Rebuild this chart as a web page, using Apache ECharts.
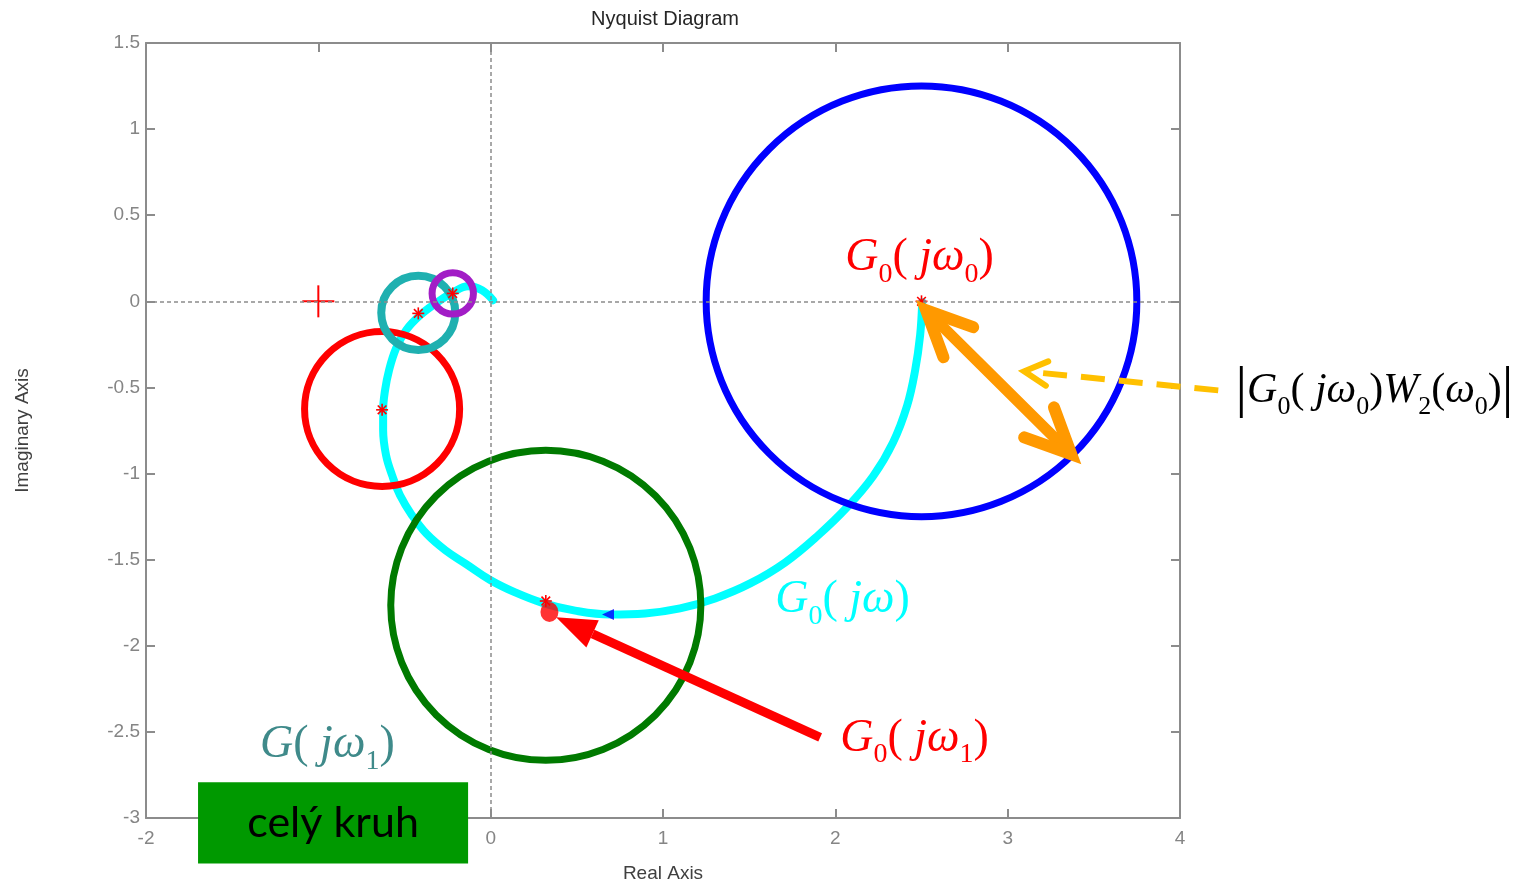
<!DOCTYPE html>
<html>
<head>
<meta charset="utf-8">
<script src="https://cdn.jsdelivr.net/npm/echarts@6/dist/echarts.min.js"></script>
<style>
  html, body { margin: 0; padding: 0; background: #fff; }
  #chart { width: 1523px; height: 883px; }
</style>
</head>
<body>
<div id="chart"></div>
<script>
// Axis ranges and tick steps
const realRange = [-2, 4];
const realStep = 1;
const imagRange = [-3, 1.5];
const imagStep = 0.5;

// Nyquist curve G0(jw): real and imaginary parts
const nyquistRe = [0.014, -0.050, -0.131, -0.218, -0.311, -0.410, -0.491, -0.549, -0.590, -0.613, -0.624, -0.624, -0.607, -0.572, -0.526, -0.456, -0.372, -0.262, -0.140, -0.003, 0.142, 0.304, 0.490, 0.693, 0.896, 1.099, 1.302, 1.506, 1.709, 1.900, 2.068, 2.219, 2.335, 2.417, 2.463, 2.492, 2.504];
const nyquistIm = [0.006, 0.064, 0.087, 0.052, -0.006, -0.081, -0.168, -0.273, -0.401, -0.517, -0.633, -0.749, -0.894, -1.010, -1.126, -1.243, -1.350, -1.446, -1.527, -1.618, -1.690, -1.752, -1.796, -1.818, -1.812, -1.783, -1.725, -1.638, -1.516, -1.359, -1.196, -1.016, -0.819, -0.604, -0.401, -0.197, -0.006];

// Uncertainty circles: centre (re, im) and radius |G0 W2|
const circleRe = [2.5, 0.32, -0.63, -0.42, -0.22];
const circleIm = [0.0, -1.765, -0.625, -0.067, 0.046];
const circleRadius = [1.25, 0.9, 0.45, 0.215, 0.12];

// Frequency points marked on the curve
const markRe = [2.5, 0.32, -0.63, -0.42, -0.22];
const markIm = [0.0, -1.74, -0.63, -0.07, 0.046];

// Critical point, G0(jw1) point and direction marker
const criticalPoint = [-1, 0];
const pointW1 = [0.341, -1.804];
const directionPoint = [0.681, -1.818];

// Annotation arrows: tail and head (re, im)
const arrowTail = [[1.912, -2.532], [3.369, -0.888], [4.222, -0.517]];
const arrowHead = [[0.380, -1.835], [2.527, -0.052], [3.096, -0.406]];

// Formula labels: anchor (left, middle) in data units
const labelRe = [2.057, 4.322, 1.651, 2.028, -1.338];
const labelIm = [0.25, -0.522, -1.736, -2.538, -2.578];
const labelText = [
  '{i|G}{s|0}{r|(}{i| jω}{s|0}{r|)}',
  '{b||}{ii|G}{ss|0}{rr|(}{ii| jω}{ss|0}{rr|)}{ii|W}{ss|2}{rr|(}{ii|ω}{ss|0}{rr|)}{b||}',
  '{i|G}{s|0}{r|(}{i| jω}{r|)}',
  '{i|G}{s|0}{r|(}{i| jω}{s|1}{r|)}',
  '{i|G}{r|(}{i| jω}{s|1}{r|)}'
];

// Note box "celý kruh": corners in data units
const boxRe = [-1.698, -0.131];
const boxIm = [-2.793, -3.264];
const boxText = 'celý kruh';

// ---- styling ----
const circleColors = ['#0000ff', '#007a00', '#ff0000', '#1fb0b0', '#a21dc6'];
const circleWidths = [7, 7, 7, 8, 7];
const labelColors = ['#ff0000', '#000000', '#00ffff', '#ff0000', '#3f8a8a'];
const frameColor = '#8c8c8c';
const sans = '"Liberation Sans", Arial, sans-serif';
const serif = '"Liberation Serif", "DejaVu Serif", serif';
const richStyles = {
  i: { fontFamily: serif, fontStyle: 'italic', fontSize: 46, lineHeight: 60 },
  r: { fontFamily: serif, fontSize: 46, lineHeight: 60 },
  s: { fontFamily: serif, fontSize: 28, lineHeight: 28, verticalAlign: 'bottom' },
  ii: { fontFamily: serif, fontStyle: 'italic', fontSize: 42, lineHeight: 57 },
  rr: { fontFamily: serif, fontSize: 42, lineHeight: 57 },
  ss: { fontFamily: serif, fontSize: 26, lineHeight: 26, verticalAlign: 'bottom' },
  b: { fontFamily: serif, fontSize: 58, lineHeight: 57 }
};

const chart = echarts.init(document.getElementById('chart'), null, { renderer: 'canvas' });

function axisCommon(extra) {
  return Object.assign({
    type: 'value',
    axisLine: { show: true, onZero: false, lineStyle: { color: frameColor, width: 2 } },
    axisTick: { show: true, inside: true, length: 9, lineStyle: { color: frameColor, width: 2 } },
    splitLine: { show: false },
    axisLabel: { color: '#858585', fontSize: 19, fontFamily: sans }
  }, extra);
}

function unitDir(a, b) {
  const dx = b[0] - a[0], dy = b[1] - a[1];
  const l = Math.hypot(dx, dy) || 1;
  return [dx / l, dy / l];
}
function rot(v, ang) {
  const c = Math.cos(ang), s = Math.sin(ang);
  return [v[0] * c - v[1] * s, v[0] * s + v[1] * c];
}
function chevronPts(tip, dirBack, len, ang) {
  const a = rot(dirBack, ang), b = rot(dirBack, -ang);
  return [[tip[0] + a[0] * len, tip[1] + a[1] * len], tip, [tip[0] + b[0] * len, tip[1] + b[1] * len]];
}

const option = {
  animation: false,
  backgroundColor: '#ffffff',
  title: {
    text: 'Nyquist Diagram',
    left: 660,
    top: 4,
    textAlign: 'center',
    textStyle: { fontSize: 20, fontWeight: 'normal', color: '#262626', fontFamily: sans }
  },
  grid: { left: 146, top: 43, right: 343, bottom: 65, containLabel: false, outerBoundsMode: 'none' },
  xAxis: [
    axisCommon({
      position: 'bottom', min: realRange[0], max: realRange[1], interval: realStep,
      name: 'Real Axis', nameLocation: 'middle', nameGap: 46,
      nameTextStyle: { fontSize: 19, color: '#404040', fontFamily: sans },
      axisLabel: { margin: 11, color: '#858585', fontSize: 19, fontFamily: sans }
    }),
    axisCommon({
      position: 'top', min: realRange[0], max: realRange[1], interval: realStep,
      axisLabel: { show: false }
    })
  ],
  yAxis: [
    axisCommon({
      position: 'left', min: imagRange[0], max: imagRange[1], interval: imagStep,
      name: 'Imaginary Axis', nameLocation: 'middle', nameGap: 114, nameRotate: 90,
      nameTextStyle: { fontSize: 19, color: '#404040', fontFamily: sans },
      axisLabel: { margin: 6, color: '#858585', fontSize: 19, fontFamily: sans }
    }),
    axisCommon({
      position: 'right', min: imagRange[0], max: imagRange[1], interval: imagStep,
      axisLabel: { show: false }
    })
  ],
  series: [
    // dashed zero lines
    {
      type: 'line',
      data: [],
      z: 1,
      markLine: {
        silent: true,
        symbol: 'none',
        label: { show: false },
        lineStyle: { color: '#8c8c8c', width: 1.5, type: [4, 3] },
        data: [{ xAxis: 0 }, { yAxis: 0 }]
      }
    },
    // Nyquist curve G0(jw)
    {
      type: 'line',
      z: 2,
      smooth: 0.4,
      showSymbol: false,
      lineStyle: { color: '#00ffff', width: 8, cap: 'round' },
      data: nyquistRe.map((re, i) => [re, nyquistIm[i]])
    },
    // uncertainty circles
    {
      type: 'custom',
      z: 3,
      clip: false,
      data: circleRe.map((re, i) => [re, circleIm[i], circleRadius[i], i]),
      renderItem(params, api) {
        const c = api.coord([api.value(0), api.value(1)]);
        const s = api.size([api.value(2), api.value(2)]);
        const i = api.value(3);
        return {
          type: 'circle',
          shape: { cx: c[0], cy: c[1], r: (s[0] + s[1]) / 2 },
          style: { fill: 'none', stroke: circleColors[i], lineWidth: circleWidths[i] }
        };
      }
    },
    // frequency markers (*) and critical point (+)
    {
      type: 'custom',
      z: 4,
      clip: false,
      data: markRe.map((re, i) => [re, markIm[i], 0]).concat([[criticalPoint[0], criticalPoint[1], 1]]),
      renderItem(params, api) {
        const c = api.coord([api.value(0), api.value(1)]);
        const big = api.value(2) === 1;
        const h = big ? 16 : 6;
        const lines = [
          [[c[0] - h, c[1]], [c[0] + h, c[1]]],
          [[c[0], c[1] - h], [c[0], c[1] + h]]
        ];
        if (!big) {
          const d = h * 0.72;
          lines.push([[c[0] - d, c[1] - d], [c[0] + d, c[1] + d]]);
          lines.push([[c[0] - d, c[1] + d], [c[0] + d, c[1] - d]]);
        }
        return {
          type: 'group',
          children: lines.map(l => ({
            type: 'line',
            shape: { x1: l[0][0], y1: l[0][1], x2: l[1][0], y2: l[1][1] },
            style: { stroke: '#ff0000', lineWidth: big ? 2 : 1.6 }
          }))
        };
      }
    },
    // direction marker on the curve
    {
      type: 'scatter',
      z: 5,
      symbol: 'triangle',
      symbolRotate: 90,
      symbolSize: [11, 12],
      itemStyle: { color: '#0000ff' },
      data: [directionPoint]
    },
    // G0(jw1) point
    {
      type: 'scatter',
      z: 6,
      symbol: 'circle',
      symbolSize: [18, 20],
      itemStyle: { color: '#ff0000' },
      data: [pointW1]
    },
    // annotation arrows
    {
      type: 'custom',
      z: 7,
      clip: false,
      data: arrowTail.map((t, i) => [t[0], t[1], arrowHead[i][0], arrowHead[i][1], i]),
      renderItem(params, api) {
        const a = api.coord([api.value(0), api.value(1)]);
        const b = api.coord([api.value(2), api.value(3)]);
        const kind = api.value(4);
        const back = unitDir(b, a);
        if (kind === 0) {
          const len = 40, half = 15;
          const base = [b[0] + back[0] * len, b[1] + back[1] * len];
          const perp = [-back[1], back[0]];
          return {
            type: 'group',
            children: [
              { type: 'line', shape: { x1: a[0], y1: a[1], x2: base[0], y2: base[1] },
                style: { stroke: '#ff0000', lineWidth: 9 } },
              { type: 'polygon', shape: { points: [b,
                  [base[0] + perp[0] * half, base[1] + perp[1] * half],
                  [base[0] - perp[0] * half, base[1] - perp[1] * half]] },
                style: { fill: '#ff0000' } }
            ]
          };
        }
        if (kind === 1) {
          const col = '#ff9900';
          const ang = 25 * Math.PI / 180;
          const fwd = unitDir(a, b);
          return {
            type: 'group',
            children: [
              { type: 'line', shape: { x1: a[0], y1: a[1], x2: b[0], y2: b[1] },
                style: { stroke: col, lineWidth: 11, lineCap: 'round' } },
              { type: 'polyline', shape: { points: chevronPts(b, back, 50, ang) },
                style: { stroke: col, lineWidth: 12, lineCap: 'round', lineJoin: 'miter', fill: 'none' } },
              { type: 'polyline', shape: { points: chevronPts(a, fwd, 50, ang) },
                style: { stroke: col, lineWidth: 12, lineCap: 'round', lineJoin: 'miter', fill: 'none' } }
            ]
          };
        }
        const col = '#ffc000';
        const ang = 28 * Math.PI / 180;
        return {
          type: 'group',
          children: [
            { type: 'line', shape: { x1: a[0], y1: a[1], x2: b[0], y2: b[1] },
              style: { stroke: col, lineWidth: 6, lineDash: [24, 14] } },
            { type: 'polyline', shape: { points: chevronPts(b, back, 26, ang) },
              style: { stroke: col, lineWidth: 6, lineCap: 'round', fill: 'none' } }
          ]
        };
      }
    },
    // formula labels
    {
      type: 'custom',
      z: 8,
      clip: false,
      data: labelRe.map((re, i) => [re, labelIm[i], i]),
      renderItem(params, api) {
        const p = api.coord([api.value(0), api.value(1)]);
        const i = api.value(2);
        return {
          type: 'text',
          x: p[0],
          y: p[1],
          style: {
            text: labelText[i],
            rich: richStyles,
            fill: labelColors[i],
            align: 'left',
            verticalAlign: 'middle'
          }
        };
      }
    },
    // note box
    {
      type: 'custom',
      z: 9,
      clip: false,
      data: [[boxRe[0], boxIm[0], boxRe[1], boxIm[1]]],
      renderItem(params, api) {
        const p1 = api.coord([api.value(0), api.value(1)]);
        const p2 = api.coord([api.value(2), api.value(3)]);
        return {
          type: 'group',
          children: [
            { type: 'rect',
              shape: { x: p1[0], y: p1[1], width: p2[0] - p1[0], height: p2[1] - p1[1] },
              style: { fill: '#009900' } },
            { type: 'text',
              x: (p1[0] + p2[0]) / 2, y: (p1[1] + p2[1]) / 2,
              style: { text: boxText, fill: '#000000', fontSize: 43,
                fontFamily: 'Lato, "Open Sans", sans-serif', align: 'center', verticalAlign: 'middle' } }
          ]
        };
      }
    }
  ]
};

chart.setOption(option);
</script>
</body>
</html>
